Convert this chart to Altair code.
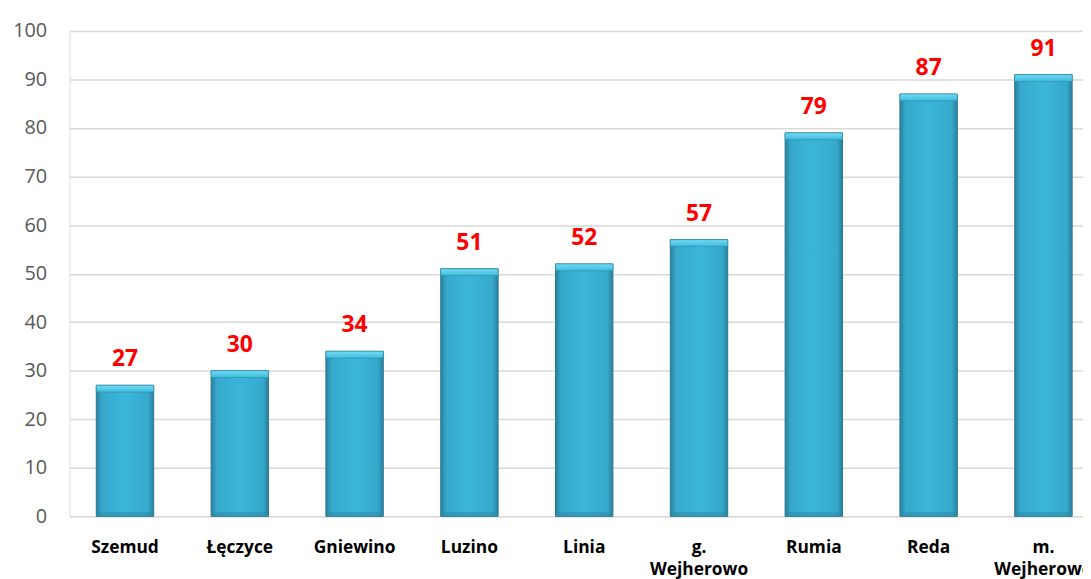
import altair as alt
import pandas as pd

categories = ["Szemud", "Łęczyce", "Gniewino", "Luzino", "Linia",
              "g. Wejherowo", "Rumia", "Reda", "m. Wejherowo"]
values = [27, 30, 34, 51, 52, 57, 79, 87, 91]
y_ticks = [0, 10, 20, 30, 40, 50, 60, 70, 80, 90, 100]

df = pd.DataFrame({"gmina": categories, "wartosc": values})

x_enc = alt.X(
    "gmina:N",
    sort=categories,
    scale=alt.Scale(range=[0, 1037], paddingInner=0.5, paddingOuter=0.233),
    axis=alt.Axis(
        title=None, labelAngle=0, labelFont="Open Sans", labelFontWeight="bold",
        labelFontSize=17.5, labelColor="#000000", labelPadding=22, ticks=False,
        tickSize=0, domain=False, labelExpr="split(datum.label, ' ')",
        labelLineHeight=23, labelOverlap=False,
    ),
)
y_enc = alt.Y(
    "wartosc:Q",
    scale=alt.Scale(domain=[0, 100], nice=False),
    axis=alt.Axis(
        title=None, values=y_ticks, labelFont="Open Sans", labelFontSize=20,
        labelColor="#595959", labelPadding=23, ticks=False, tickSize=0,
        domain=False, gridColor="#d9d9d9", gridWidth=1.5,
    ),
)

base = alt.Chart(df)

body = base.mark_bar(
    color=alt.Gradient(
        gradient="linear", x1=0, x2=1, y1=0, y2=0,
        stops=[
            alt.GradientStop(color="#2a819c", offset=0),
            alt.GradientStop(color="#36a9cc", offset=0.1),
            alt.GradientStop(color="#3ab6da", offset=0.5),
            alt.GradientStop(color="#36a9cc", offset=0.9),
            alt.GradientStop(color="#2a819c", offset=1),
        ],
    ),
    stroke="#2a7890", strokeWidth=1,
).encode(x=x_enc, y=y_enc)

top_cap = base.transform_calculate(
    cap="datum.wartosc - 1.4"
).mark_bar(
    color=alt.Gradient(
        gradient="linear", x1=0, x2=0, y1=0, y2=1,
        stops=[
            alt.GradientStop(color="#72dcf4", offset=0),
            alt.GradientStop(color="#3fbadd", offset=1),
        ],
    ),
    stroke="#2f8aa5", strokeWidth=0.6,
).encode(x=x_enc, y=alt.Y("wartosc:Q"), y2=alt.Y2("cap:Q"))

bottom_shade = base.transform_calculate(
    lo="0", hi="0.9"
).mark_bar(color="#2b8aa6", opacity=0.5).encode(
    x=x_enc, y=alt.Y("hi:Q"), y2=alt.Y2("lo:Q")
)

labels = base.mark_text(
    dy=-19, baseline="alphabetic", font="Open Sans", fontWeight="bold",
    fontSize=23, color="#ff0000",
).encode(x=x_enc, y=y_enc, text=alt.Text("wartosc:Q"))

chart = alt.layer(body, bottom_shade, top_cap, labels).properties(
    width=1021, height=489,
    padding={"left": 62, "top": 21, "right": 0, "bottom": 61},
    autosize=alt.AutoSizeParams(type="none"),
).configure_view(stroke=None).configure(background="#ffffff")

chart.save("out.html", embed_options={"renderer": "svg", "actions": False})
